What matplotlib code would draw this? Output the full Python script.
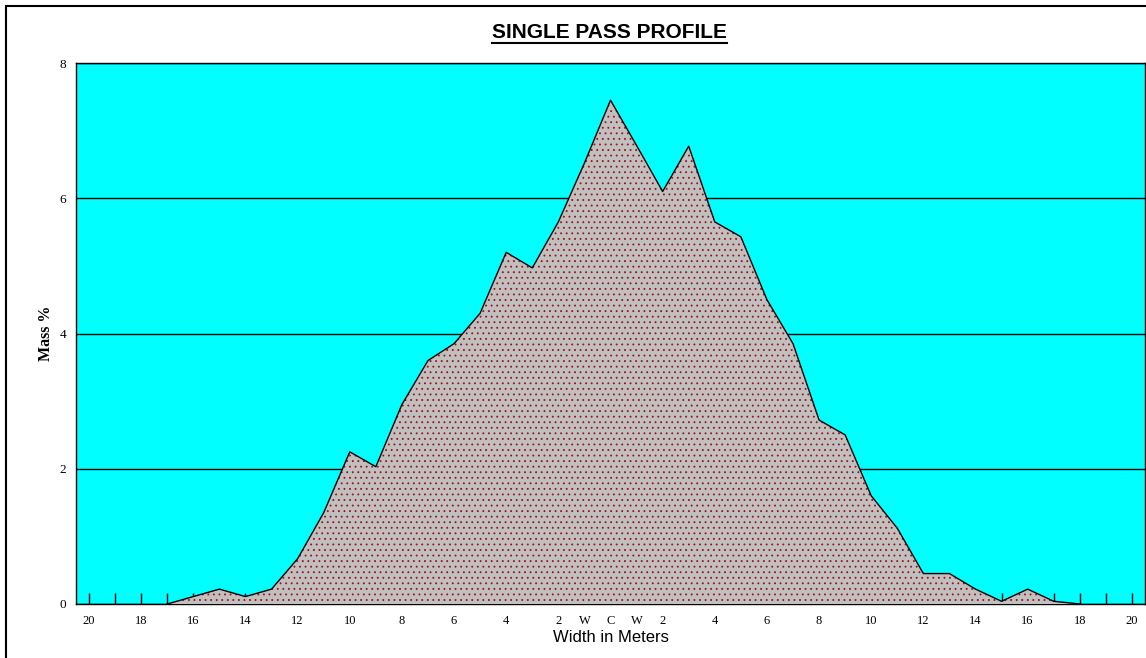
import numpy as np
import matplotlib
matplotlib.use("Agg")
import matplotlib.pyplot as plt
from matplotlib.lines import Line2D
from matplotlib.patches import Rectangle

# categorias do eixo x (esquerda 20..2, centro W C W, direita 2..20)
left_side = [str(n) for n in range(20, 1, -1)]
right_side = [str(n) for n in range(2, 21)]
categories = left_side + ["W", "C", "W"] + right_side

# so os pares aparecem como rotulo
tick_labels = [c if (not c.isdigit() or int(c) % 2 == 0) else "" for c in categories]

# massa % por posicao
mass_pct = [0, 0, 0, 0, 0.11, 0.22, 0.11, 0.22, 0.67, 1.35,
            2.25, 2.03, 2.95, 3.6, 3.85, 4.3, 5.2, 4.97, 5.65, 6.52,
            7.45, 6.78, 6.1, 6.77, 5.65, 5.43, 4.5, 3.85, 2.72, 2.5,
            1.6, 1.12, 0.45, 0.45, 0.22, 0.04, 0.22, 0.04, 0, 0, 0]

y_ticks = [0, 2, 4, 6, 8]

x = np.arange(len(categories))
y = np.array(mass_pct)

plt.rcParams["hatch.linewidth"] = 0.6

fig = plt.figure(figsize=(11.46, 6.58), dpi=100)
ax = fig.add_axes([76 / 1146, 1 - 604 / 658, 1069 / 1146, 541 / 658])
ax.set_facecolor("#00FFFF")
ax.set_axisbelow(True)

# area com pontinhos vermelhos
start, end = 3, 38
ax.fill_between(x[start:end + 1], y[start:end + 1], 0, facecolor="#C0C0C0",
                edgecolor="#A01010", hatch="...", linewidth=0, zorder=3)
ax.plot(x[start:end + 1], y[start:end + 1], color="black", linewidth=1, zorder=4)

ax.set_xlim(-0.5, len(categories) - 0.5)
ax.set_ylim(0, 8)
ax.set_yticks(y_ticks)
ax.set_yticklabels([str(t) for t in y_ticks], fontfamily="Liberation Serif", fontsize=9.5)
ax.tick_params(axis="y", length=0, pad=7)
ax.set_xticks(x)
ax.set_xticklabels(tick_labels, fontfamily="Liberation Serif", fontsize=9)
ax.tick_params(axis="x", direction="in", length=8, width=1, color="black", pad=8)
ax.yaxis.grid(True, color="black", linewidth=1)

for s in ax.spines.values():
    s.set_color("black")
    s.set_linewidth(1)

ax.set_ylabel("Mass %", fontfamily="Liberation Serif", fontweight="bold", fontsize=11.5, labelpad=4)
ax.set_xlabel("Width in Meters", fontfamily="Liberation Sans", fontsize=12, labelpad=2)

title = fig.text(0.532, 1 - 32 / 658, "SINGLE PASS PROFILE", ha="center", va="center",
                 fontfamily="Liberation Sans", fontweight="bold", fontsize=15)

# sublinhado do titulo
fig.canvas.draw()
bb = title.get_window_extent()
W, H = fig.bbox.width, fig.bbox.height
uy = (bb.y0 - 1) / H
fig.add_artist(Line2D([bb.x0 / W, bb.x1 / W], [uy, uy], color="black", linewidth=1.5))

# moldura do grafico
fig.add_artist(Rectangle((6 / 1146, -0.01), 1.1, 1 - 6 / 658 + 0.01, transform=fig.transFigure,
                         fill=False, edgecolor="black", linewidth=1.5))

fig.savefig("out.png", dpi=100)
